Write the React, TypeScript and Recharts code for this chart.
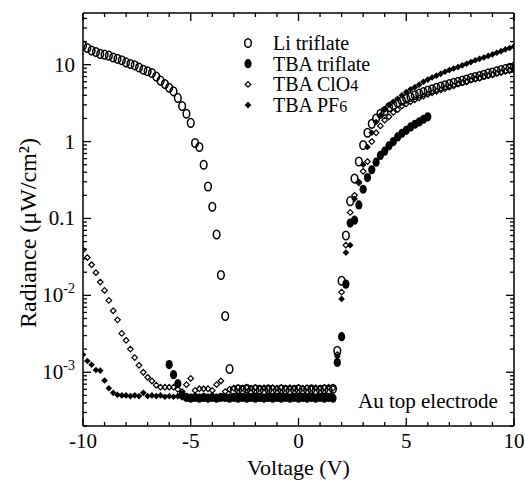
import React from 'react';
import { ScatterChart, Scatter, XAxis, YAxis, Legend } from 'recharts';

const FONT = '"Liberation Serif", "Times New Roman", serif';

// applied voltage, 0.2 V steps
const VOLTS = [
  -10, -9.8, -9.6, -9.4, -9.2, -9, -8.8, -8.6, -8.4, -8.2,
  -8, -7.8, -7.6, -7.4, -7.2, -7, -6.8, -6.6, -6.4, -6.2,
  -6, -5.8, -5.6, -5.4, -5.2, -5, -4.8, -4.6, -4.4, -4.2,
  -4, -3.8, -3.6, -3.4, -3.2, -3, -2.8, -2.6, -2.4, -2.2,
  -2, -1.8, -1.6, -1.4, -1.2, -1, -0.8, -0.6, -0.4, -0.2,
  0, 0.2, 0.4, 0.6, 0.8, 1, 1.2, 1.4, 1.6, 1.8,
  2, 2.2, 2.4, 2.6, 2.8, 3, 3.2, 3.4, 3.6, 3.8,
  4, 4.2, 4.4, 4.6, 4.8, 5, 5.2, 5.4, 5.6, 5.8,
  6, 6.2, 6.4, 6.6, 6.8, 7, 7.2, 7.4, 7.6, 7.8,
  8, 8.2, 8.4, 8.6, 8.8, 9, 9.2, 9.4, 9.6, 9.8,
  10,
];

// radiance, uW/cm2 (null = no point)
const LI_TRIFLATE = [
  17.7, 16.5, 15.3, 14.6, 13.8, 13.5, 13.1, 12.4, 11.9, 11.4,
  10.7, 10.2, 9.8, 9.2, 8.6, 8.2, 7.8, 7.0, 6.2, 5.6,
  5.0, 4.5, 3.7, 2.9, 2.3, 1.75, 0.96, 0.85, 0.5, 0.26,
  0.142, 0.062, 0.0184, 0.0054, 0.0011, 0.00058, 0.0006, 0.00059, 0.00061, 0.00058,
  0.0006, 0.00059, 0.00058, 0.0006, 0.00059, 0.00058, 0.0006, 0.00059, 0.00058, 0.00059,
  0.0006, 0.00058, 0.00059, 0.0006, 0.00058, 0.00059, 0.0006, 0.00058, 0.00061, 0.0019,
  0.0155, 0.06, 0.168, 0.33, 0.55, 0.9, 1.3, 1.7, 2.0, 2.3,
  2.5, 2.8, 3.0, 3.2, 3.4, 3.6, 3.8, 4.0, 4.2, 4.4,
  4.6, 4.8, 5.0, 5.2, 5.4, 5.6, 5.8, 6.0, 6.2, 6.4,
  6.7, 6.9, 7.1, 7.4, 7.7, 7.9, 8.2, 8.5, 8.8, 9.1,
  9.4,
];

const TBA_TRIFLATE = [
  null, null, null, null, null, null, null, null, null, null,
  null, null, null, null, null, null, null, null, null, null,
  0.00126, 0.00093, 0.00071, 0.00051, 0.00047, 0.00046, 0.00047, 0.00046, 0.00047, 0.00046,
  0.00047, 0.00046, 0.00047, 0.00047, 0.00046, 0.00047, 0.00046, 0.00047, 0.00046, 0.00047,
  0.00046, 0.00047, 0.00046, 0.00047, 0.00046, 0.00047, 0.00046, 0.00047, 0.00046, 0.00047,
  0.00046, 0.00047, 0.00046, 0.00047, 0.00046, 0.00047, 0.00046, 0.00047, 0.00046, 0.00134,
  0.0029, 0.014, 0.087, 0.095, 0.15, 0.24, 0.34, 0.43, 0.54, 0.66,
  0.75, 0.88, 1.0, 1.15, 1.28, 1.4, 1.55, 1.68, 1.8, 1.95,
  2.1, null, null, null, null, null, null, null, null, null,
  null, null, null, null, null, null, null, null, null, null,
  null,
];

const TBA_CLO4 = [
  0.039, 0.031, 0.025, 0.0197, 0.0149, 0.0116, 0.0086, 0.0063, 0.0048, 0.0032,
  0.0026, 0.002, 0.00155, 0.00123, 0.001, 0.00086, 0.00077, 0.00068, 0.00064, 0.00064,
  0.00064, 0.00064, 0.0006, 0.00056, 0.00069, 0.00083, 0.00058, 0.00061, 0.00061, 0.00061,
  0.00058, 0.00069, 0.00077, 0.00056, 0.0006, 0.00062, 0.00063, 0.00062, 0.00063, 0.00062,
  0.00063, 0.00062, 0.00063, 0.00062, 0.00063, 0.00062, 0.00063, 0.00062, 0.00063, 0.00062,
  0.00063, 0.00062, 0.00063, 0.00062, 0.00063, 0.00062, 0.00063, 0.00064, 0.00062, 0.0017,
  0.011, 0.045, 0.12, 0.2, 0.29, 0.41, 0.55, 1.0, 1.3, 1.6,
  1.9, 2.1, 2.4, 2.6, 2.9, 3.1, 3.3, 3.5, 3.7, 3.9,
  4.1, 4.3, 4.5, 4.7, 4.9, 5.1, 5.3, 5.6, 5.8, 6.0,
  6.3, 6.5, 6.7, 7.0, 7.2, 7.4, 7.7, 7.9, 8.2, 8.4,
  8.7,
];

const TBA_PF6 = [
  0.0017, 0.0014, 0.00125, 0.00107, 0.00105, 0.00078, 0.00062, 0.00054, 0.00051, 0.0005,
  0.0005, 0.00049, 0.0005, 0.00049, 0.00054, 0.00049, 0.0005, 0.00049, 0.0005, 0.00048,
  0.00049, 0.00048, 0.00049, 0.00047, 0.00048, 0.00047, 0.00048, 0.00047, 0.00048, 0.00047,
  0.00048, 0.00047, 0.00048, 0.00047, 0.00048, 0.00047, 0.00048, 0.00047, 0.00048, 0.00047,
  0.00048, 0.00047, 0.00048, 0.00047, 0.00048, 0.00047, 0.00048, 0.00047, 0.00048, 0.00047,
  0.00048, 0.00047, 0.00048, 0.00047, 0.00048, 0.00047, 0.00048, 0.00047, 0.00048, 0.0016,
  0.009, 0.036, 0.045, 0.18, 0.3, 0.5, 0.85, 1.3, 1.8, 2.2,
  2.6, 3.0, 3.3, 3.6, 4.0, 4.4, 4.8, 5.1, 5.5, 6.0,
  6.4, 6.8, 7.2, 7.6, 8.1, 8.5, 8.9, 9.3, 9.8, 10.3,
  10.8, 11.4, 11.9, 12.4, 13.0, 13.6, 14.3, 15.0, 15.8, 16.5,
  17.3,
];

const X_TICKS = [-10, -9, -8, -7, -6, -5, -4, -3, -2, -1, 0, 1, 2, 3, 4, 5, 6, 7, 8, 9, 10];
const X_MAJOR = [-10, -5, 0, 5, 10];
const Y_MAJOR = [0.001, 0.01, 0.1, 1, 10];
const Y_MINOR = [
  0.0002, 0.0003, 0.0004, 0.0005, 0.0006, 0.0007, 0.0008, 0.0009,
  0.002, 0.003, 0.004, 0.005, 0.006, 0.007, 0.008, 0.009,
  0.02, 0.03, 0.04, 0.05, 0.06, 0.07, 0.08, 0.09,
  0.2, 0.3, 0.4, 0.5, 0.6, 0.7, 0.8, 0.9,
  2, 3, 4, 5, 6, 7, 8, 9,
  20, 30, 40,
];
const Y_TICKS = [...Y_MINOR, ...Y_MAJOR].sort((a, b) => a - b);
const Y_LABELS: Record<string, [string, string?]> = {
  '0.001': ['10', '-3'],
  '0.01': ['10', '-2'],
  '0.1': ['0.1'],
  '1': ['1'],
  '10': ['10'],
};

const SERIES = [
  { name: 'Li triflate', values: LI_TRIFLATE, kind: 'openCircle' },
  { name: 'TBA triflate', values: TBA_TRIFLATE, kind: 'dot' },
  { name: 'TBA ClO', sub: '4', values: TBA_CLO4, kind: 'openDiamond' },
  { name: 'TBA PF', sub: '6', values: TBA_PF6, kind: 'diamond' },
];

function Marker({ kind, cx, cy }: { kind: string; cx: number; cy: number }) {
  if (kind === 'openCircle')
    return <ellipse cx={cx} cy={cy} rx={3.3} ry={4.3} fill="none" stroke="#000" strokeWidth={1.5} />;
  if (kind === 'dot') return <ellipse cx={cx} cy={cy} rx={3.6} ry={4.6} fill="#000" />;
  const r = kind === 'diamond' ? 3.3 : 2.8;
  const d = `M${cx},${cy - r}L${cx + r},${cy}L${cx},${cy + r}L${cx - r},${cy}Z`;
  return kind === 'diamond'
    ? <path d={d} fill="#000" />
    : <path d={d} fill="none" stroke="#000" strokeWidth={1.2} />;
}

const isMajorX = (v: number) => X_MAJOR.includes(v);
const isMajorY = (v: number) => Y_MAJOR.includes(v);

function BottomTick({ x, y, payload }: any) {
  const major = isMajorX(payload.value);
  return (
    <g>
      <line x1={x} x2={x} y1={y} y2={y - (major ? 8 : 4)} stroke="#000" strokeWidth={1.3} />
      {major && (
        <text x={x} y={y + 22} textAnchor="middle" fontSize={21} fontFamily={FONT} fill="#000">
          {payload.value}
        </text>
      )}
    </g>
  );
}

function TopTick({ x, y, payload }: any) {
  const major = isMajorX(payload.value);
  return <line x1={x} x2={x} y1={y} y2={y + (major ? 8 : 4)} stroke="#000" strokeWidth={1.3} />;
}

function LeftTick({ x, y, payload }: any) {
  const major = isMajorY(payload.value);
  const lab = Y_LABELS[String(payload.value)];
  return (
    <g>
      <line x1={x} x2={x + (major ? 8 : 4)} y1={y} y2={y} stroke="#000" strokeWidth={1.3} />
      {lab && (
        <text x={x - 8} y={y + 7} textAnchor="end" fontSize={21} fontFamily={FONT} fill="#000">
          {lab[0]}
          {lab[1] && <tspan fontSize={14} dy={-9}>{lab[1]}</tspan>}
        </text>
      )}
    </g>
  );
}

function RightTick({ x, y, payload }: any) {
  const major = isMajorY(payload.value);
  return <line x1={x} x2={x - (major ? 8 : 4)} y1={y} y2={y} stroke="#000" strokeWidth={1.3} />;
}

function LegendBox() {
  return (
    <svg width={180} height={90} style={{ display: 'block' }}>
      {SERIES.map((s, i) => (
        <g key={s.name}>
          <Marker kind={s.kind} cx={8} cy={13 + i * 20.7} />
          <text x={33} y={20 + i * 20.7} fontSize={20} fontFamily={FONT} fill="#000">
            {s.name}
            {s.sub && <tspan fontSize={16}>{s.sub}</tspan>}
          </text>
        </g>
      ))}
    </svg>
  );
}

const axisLine = { stroke: '#000', strokeWidth: 1.5 };

export default function App() {
  const data = SERIES.map((s) =>
    VOLTS.map((x, i) => ({ x, y: s.values[i] })).filter((p) => p.y != null)
  );

  return (
    <div style={{ position: 'absolute', left: 0, top: 0, width: 525, height: 487, background: '#fff' }}>
      <ScatterChart width={525} height={487} margin={{ top: 12, right: 10, bottom: 0, left: 0 }}>
        <XAxis
          dataKey="x"
          type="number"
          domain={[-10, 10]}
          ticks={X_TICKS}
          interval={0}
          allowDataOverflow
          height={61}
          axisLine={axisLine}
          tickLine={false}
          tickSize={0}
          tickMargin={0}
          tick={BottomTick}
          label={{ value: 'Voltage (V)', position: 'insideBottom', offset: 12, fontSize: 22, fontFamily: FONT, fill: '#000' }}
        />
        <XAxis
          xAxisId="top"
          orientation="top"
          dataKey="x"
          type="number"
          domain={[-10, 10]}
          ticks={X_TICKS}
          interval={0}
          allowDataOverflow
          height={1}
          axisLine={axisLine}
          tickLine={false}
          tickSize={0}
          tickMargin={0}
          tick={TopTick}
        />
        <YAxis
          dataKey="y"
          type="number"
          scale="log"
          domain={[0.0002, 47]}
          ticks={Y_TICKS}
          interval={0}
          allowDataOverflow
          width={83}
          axisLine={axisLine}
          tickLine={false}
          tickSize={0}
          tickMargin={0}
          tick={LeftTick}
          label={{
            content: () => (
              <text transform="translate(36,233) rotate(-90)" textAnchor="middle" fontSize={24} fontFamily={FONT} fill="#000">
                Radiance (μW/cm²)
              </text>
            ),
          }}
        />
        <YAxis
          yAxisId="right"
          orientation="right"
          dataKey="y"
          type="number"
          scale="log"
          domain={[0.0002, 47]}
          ticks={Y_TICKS}
          interval={0}
          allowDataOverflow
          width={1}
          axisLine={axisLine}
          tickLine={false}
          tickSize={0}
          tickMargin={0}
          tick={RightTick}
        />
        {SERIES.map((s, i) => (
          <Scatter
            key={s.name}
            name={s.name}
            data={data[i]}
            isAnimationActive={false}
            shape={(p: any) => <Marker kind={s.kind} cx={p.cx} cy={p.cy} />}
          />
        )).reverse()}
        <Legend
          layout="vertical"
          align="center"
          verticalAlign="middle"
          wrapperStyle={{ left: 240, top: 30, width: 180 }}
          content={() => <LegendBox />}
        />
      </ScatterChart>
      <svg width={525} height={487} style={{ position: 'absolute', left: 0, top: 0, pointerEvents: 'none' }}>
        <text x={358} y={408} fontSize={21} fontFamily={FONT} fill="#000">Au top electrode</text>
      </svg>
    </div>
  );
}
